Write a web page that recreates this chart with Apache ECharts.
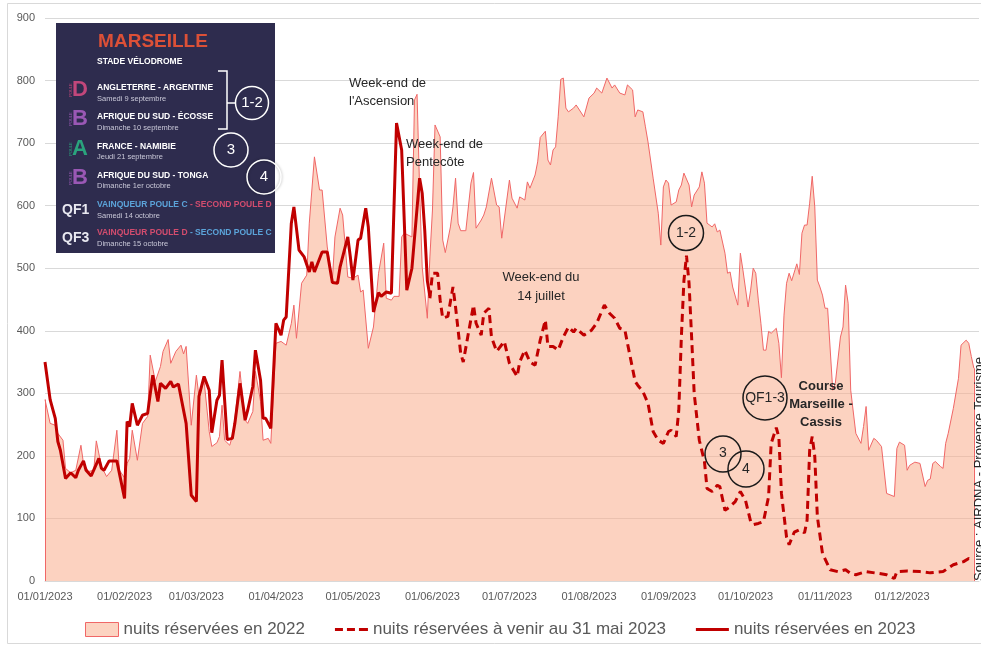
<!DOCTYPE html>
<html>
<head>
<meta charset="utf-8">
<script src="https://cdn.jsdelivr.net/npm/echarts@6/dist/echarts.min.js"></script>
<style>
  html, body { margin: 0; padding: 0; background: #fff; }
  #chart { width: 981px; height: 648px; }
</style>
</head>
<body>
<div id="chart"></div>
<script>
// day index (0 = 01/01/2023) and nights booked
const nights2022 = [
  [0,290],[2,252],[4,249],[5,236],[7,225],[8,180],[10,173],[12,177],[14,217],[15,188],[17,175],[19,177],
  [20,224],[22,183],[24,167],[26,177],[28,241],[29,177],[31,165],[32,188],[33,196],[34,241],[36,193],
  [38,252],[40,263],[41,361],[43,319],[45,343],[46,367],[48,386],[49,348],[51,367],[53,377],[54,363],
  [55,375],[57,249],[59,329],[60,295],[62,320],[64,239],[65,215],[67,221],[68,231],[69,281],[70,225],
  [72,217],[73,231],[74,260],[76,335],[78,257],[79,252],[81,271],[82,335],[84,287],[85,225],[87,228],
  [88,220],[90,380],[92,383],[94,377],[96,412],[97,441],[98,388],[100,476],[102,489],[103,572],[105,678],
  [107,625],[108,625],[110,534],[112,481],[113,550],[115,596],[116,585],[118,486],[120,484],[122,489],
  [123,462],[124,465],[126,372],[128,406],[130,492],[132,540],[133,452],[135,449],[136,455],[138,455],
  [139,550],[140,556],[143,550],[144,769],[145,778],[146,625],[147,502],[149,420],[150,518],[151,593],
  [152,729],[154,710],[155,545],[156,525],[158,566],[159,598],[160,644],[161,572],[162,560],[164,560],
  [166,636],[167,653],[168,564],[170,577],[171,585],[172,598],[174,644],[176,601],[177,598],[178,548],
  [181,641],[182,612],[184,596],[185,614],[187,609],[188,638],[189,628],[191,649],[192,670],[193,709],
  [195,719],[196,673],[197,665],[198,689],[199,694],[200,742],[201,802],[202,804],[203,756],[204,750],
  [206,756],[207,761],[210,742],[212,772],[214,780],[215,788],[217,780],[219,804],[221,788],[222,793],
  [224,780],[226,777],[227,793],[229,785],[230,742],[231,753],[233,750],[234,726],[235,702],[237,644],
  [239,588],[240,537],[241,630],[242,641],[243,636],[244,601],[246,606],[247,625],[248,633],[249,652],
  [251,633],[252,598],[253,617],[255,630],[256,654],[257,636],[258,572],[260,566],[261,571],[262,558],
  [263,561],[265,524],[266,492],[267,494],[268,470],[270,441],[271,524],[272,497],[274,438],[275,465],
  [276,500],[277,492],[278,449],[279,412],[280,369],[281,369],[282,399],[283,396],[285,404],[286,380],
  [287,325],[288,425],[289,476],[290,492],[291,480],[293,507],[294,490],[295,556],[296,569],[297,569],
  [298,604],[299,647],[300,598],[301,481],[302,470],[303,457],[304,436],[305,436],[307,305],[308,316],
  [310,390],[311,406],[312,473],[313,444],[314,305],[316,236],[318,220],[319,247],[320,279],[321,209],
  [323,228],[324,225],[326,215],[328,140],[331,135],[332,212],[333,222],[335,217],[336,177],[337,185],
  [339,190],[341,188],[343,151],[344,161],[345,163],[346,188],[347,191],[349,183],[350,180],[351,220],
  [352,236],[354,276],[356,324],[357,377],[359,385],[360,380],[361,359],[362,340]
];

const forward2023 = [
  [150,452],[151,492],[153,492],[154,449],[155,420],[157,423],[159,470],[160,438],[162,364],[163,350],
  [165,396],[167,441],[168,412],[170,393],[171,428],[173,436],[174,390],[176,367],[179,383],[181,348],
  [184,327],[185,350],[187,369],[189,350],[191,345],[193,385],[195,417],[196,375],[198,375],[200,369],
  [202,390],[204,406],[206,398],[207,404],[210,393],[213,401],[215,412],[218,441],[220,428],[222,420],
  [224,404],[226,401],[227,380],[230,319],[231,313],[233,303],[235,284],[237,239],[239,225],[241,220],
  [243,239],[244,241],[246,231],[247,273],[248,390],[249,480],[250,520],[251,476],[252,390],[253,300],
  [255,225],[257,191],[258,148],[260,143],[262,153],[263,151],[265,113],[267,119],[269,127],[271,143],
  [273,129],[275,95],[276,90],[278,92],[280,95],[282,135],[283,220],[285,245],[286,230],[287,140],
  [289,70],[290,58],[292,78],[294,82],[296,77],[297,97],[298,209],[299,231],[300,199],[301,103],
  [303,44],[306,18],[309,15],[312,18],[314,12],[316,10],[320,15],[325,12],[328,10],[331,4],[332,15],
  [336,16],[341,15],[345,13],[350,15],[354,26],[358,31],[360,36],[362,34]
];

const actual2023 = [
  [0,350],[2,290],[4,260],[5,223],[6,209],[8,164],[10,173],[12,165],[13,177],[15,192],[16,177],[18,168],
  [21,196],[22,180],[23,177],[25,192],[28,192],[31,132],[32,255],[33,247],[34,284],[36,249],[38,265],
  [40,268],[42,329],[44,287],[45,316],[47,308],[49,319],[50,310],[52,315],[55,252],[57,137],[59,127],
  [60,295],[62,327],[64,305],[65,237],[67,289],[68,297],[69,353],[70,289],[71,226],[73,228],[74,252],
  [76,316],[78,257],[79,273],[81,311],[82,369],[84,321],[85,260],[86,260],[88,244],[90,412],[92,393],
  [93,417],[94,422],[96,572],[97,598],[99,529],[101,518],[103,494],[104,510],[105,494],[108,526],
  [110,526],[112,477],[114,476],[115,502],[118,550],[119,518],[120,481],[122,545],[123,548],[125,596],
  [126,566],[128,430],[130,461],[131,455],[133,462],[135,460],[137,732],[139,689],[141,465],[143,500],
  [146,644],[147,620],[148,560],[149,480],[150,455]
];

const seriesNames = [
  'nuits réservées en 2022',
  'nuits réservées à venir au 31 mai 2023',
  'nuits réservées en 2023'
];

// categories: every day of 2023
const days = [];
for (let i = 0; i < 365; i++) {
  const dt = new Date(Date.UTC(2023, 0, 1 + i));
  const dd = String(dt.getUTCDate()).padStart(2, '0');
  const mm = String(dt.getUTCMonth() + 1).padStart(2, '0');
  days.push(dd + '/' + mm + '/2023');
}

const FONT = 'Liberation Sans';
const DARK = '#262626';
const RED = '#c00000';

function txt(x, y, text, size, color, opts) {
  return {
    type: 'text', z: 100, x: x, y: y,
    style: Object.assign({ text: text, fontFamily: FONT, fontSize: size, fill: color,
      align: 'left', verticalAlign: 'middle' }, (opts || {}))
  };
}
function ring(cx, cy, r, color, extra) {
  return { type: 'circle', z: 100, shape: { cx: cx, cy: cy, r: r },
    style: Object.assign({ fill: 'none', stroke: color, lineWidth: 1.5 }, extra || {}) };
}

// inset: Marseille match schedule
const pools = [
  { letter: 'D', color: '#c2477b', y: 90, title: 'ANGLETERRE - ARGENTINE', date: 'Samedi 9 septembre', ty: 88, dy: 99 },
  { letter: 'B', color: '#9a58b5', y: 119, title: 'AFRIQUE DU SUD - ÉCOSSE', date: 'Dimanche 10 septembre', ty: 117, dy: 128 },
  { letter: 'A', color: '#2aa37d', y: 149, title: 'FRANCE - NAMIBIE', date: 'Jeudi 21 septembre', ty: 147, dy: 157 },
  { letter: 'B', color: '#9a58b5', y: 178, title: 'AFRIQUE DU SUD - TONGA', date: 'Dimanche 1er octobre', ty: 176, dy: 186 }
];

const inset = [
  { type: 'rect', z: 99, shape: { x: 56, y: 23, width: 219, height: 230 }, style: { fill: '#2e2c4e' } },
  txt(153, 42, 'MARSEILLE', 19, '#dc5037', { align: 'center', fontWeight: 'bold' }),
  txt(97, 62, 'STADE VÉLODROME', 8.5, '#ffffff', { fontWeight: 'bold' })
];
pools.forEach(function (p) {
  inset.push(txt(80, p.y, p.letter, 22, p.color, { align: 'center', fontWeight: 'bold' }));
  inset.push(Object.assign(txt(71, p.y, 'POULE', 4, p.color, { align: 'center' }), { rotation: Math.PI / 2 }));
  inset.push(txt(97, p.ty, p.title, 8.5, '#ffffff', { fontWeight: 'bold' }));
  inset.push(txt(97, p.dy, p.date, 7.5, '#c9c8d8'));
});
const BLUE = '#5ba3d9', PINK = '#d24c6e';
const richQF = {
  a: { fill: BLUE, fontSize: 8.5, fontWeight: 'bold', fontFamily: FONT },
  b: { fill: PINK, fontSize: 8.5, fontWeight: 'bold', fontFamily: FONT }
};
inset.push(txt(62, 210, 'QF1', 14, '#e8e8f0', { fontWeight: 'bold' }));
inset.push(txt(97, 205, '{a|VAINQUEUR POULE C} {b|- SECOND POULE D}', 8.5, BLUE, { fontWeight: 'bold', rich: richQF }));
inset.push(txt(97, 216, 'Samedi 14 octobre', 7.5, '#c9c8d8'));
inset.push(txt(62, 238, 'QF3', 14, '#e8e8f0', { fontWeight: 'bold' }));
inset.push(txt(97, 233, '{b|VAINQUEUR POULE D} {a|- SECOND POULE C}', 8.5, PINK, { fontWeight: 'bold', rich: richQF }));
inset.push(txt(97, 244, 'Dimanche 15 octobre', 7.5, '#c9c8d8'));
// bracket + circles on the inset
inset.push({ type: 'polyline', z: 100, shape: { points: [[218, 71], [227, 71], [227, 129], [218, 129]] },
  style: { stroke: '#ffffff', lineWidth: 1.5, fill: 'none' } });
inset.push({ type: 'line', z: 100, shape: { x1: 227, y1: 103, x2: 236, y2: 103 },
  style: { stroke: '#ffffff', lineWidth: 1.5 } });
inset.push(ring(252, 103, 16.5, '#ffffff'));
inset.push(txt(252, 103, '1-2', 15, '#ffffff', { align: 'center' }));
inset.push(ring(231, 150, 17, '#ffffff'));
inset.push(txt(231, 150, '3', 15, '#ffffff', { align: 'center' }));
inset.push(ring(264, 177, 17, '#ffffff', { shadowBlur: 3, shadowColor: 'rgba(0,0,0,0.35)' }));
inset.push(txt(264, 177, '4', 15, '#ffffff', { align: 'center' }));

// annotations on the plot
const notes = [
  txt(349, 83, 'Week-end de', 13, DARK),
  txt(349, 101, "l'Ascension", 13, DARK),
  txt(406, 144, 'Week-end de', 13, DARK),
  txt(406, 162, 'Pentecôte', 13, DARK),
  txt(541, 277, 'Week-end du', 13, DARK, { align: 'center' }),
  txt(541, 296, '14 juillet', 13, DARK, { align: 'center' }),
  txt(821, 386, 'Course', 13, DARK, { align: 'center', fontWeight: 'bold' }),
  txt(821, 404, 'Marseille -', 13, DARK, { align: 'center', fontWeight: 'bold' }),
  txt(821, 422, 'Cassis', 13, DARK, { align: 'center', fontWeight: 'bold' }),
  ring(686, 233, 17.5, '#1a1a1a'),
  txt(686, 233, '1-2', 14, DARK, { align: 'center' }),
  ring(765, 398, 22, '#1a1a1a'),
  txt(765, 398, 'QF1-3', 14, DARK, { align: 'center' }),
  ring(723, 454, 18, '#1a1a1a'),
  txt(723, 453, '3', 14, DARK, { align: 'center' }),
  ring(746, 469, 18, '#1a1a1a'),
  txt(746, 469, '4', 14, DARK, { align: 'center' }),
  Object.assign(txt(979, 581, 'Source : AIRDNA - Provence Tourisme', 13, DARK), { rotation: Math.PI / 2 }),
  { type: 'rect', z: 100, shape: { x: 7.5, y: 3.5, width: 1000, height: 640 },
    style: { fill: 'none', stroke: '#d9d9d9', lineWidth: 1 } }
];

const first2022 = nights2022[0];
const last2022 = nights2022[nights2022.length - 1];

const chart = echarts.init(document.getElementById('chart'));
chart.setOption({
  backgroundColor: '#ffffff',
  animation: false,
  textStyle: { fontFamily: FONT },
  grid: { left: 45, right: 2, top: 18, bottom: 67 },
  legend: {
    left: 85, top: 621, padding: 0, itemWidth: 33, itemHeight: 14, itemGap: 30,
    textStyle: { fontSize: 17, color: '#595959', fontFamily: FONT },
    data: [
      { name: seriesNames[0], icon: 'rect',
        itemStyle: { color: '#fcd3c1', borderColor: '#f06767', borderWidth: 1 } },
      { name: seriesNames[1], icon: 'path://M0,0h8v3h-8Z M12,0h8v3h-8Z M24,0h9v3h-9Z',
        itemStyle: { color: RED, borderWidth: 0 } },
      { name: seriesNames[2], icon: 'path://M0,0h33v3h-33Z',
        itemStyle: { color: RED, borderWidth: 0 } }
    ]
  },
  xAxis: {
    type: 'category',
    data: days,
    boundaryGap: false,
    axisLine: { lineStyle: { color: '#d9d9d9' } },
    axisTick: { show: false },
    axisLabel: {
      color: '#595959', fontSize: 11, margin: 10,
      interval: function (i, v) { return v.slice(0, 2) === '01'; }
    },
    splitLine: { show: false }
  },
  yAxis: {
    type: 'value',
    min: 0, max: 900, interval: 100,
    axisLine: { show: false },
    axisTick: { show: false },
    axisLabel: { color: '#595959', fontSize: 11, margin: 10 },
    splitLine: { lineStyle: { color: '#d9d9d9', width: 1 } }
  },
  series: [
    {
      name: seriesNames[0], type: 'line', data: nights2022, symbol: 'none', z: 1,
      lineStyle: { color: '#f06767', width: 1 },
      itemStyle: { color: '#f06767' },
      areaStyle: { color: 'rgb(250,173,140)', opacity: 0.55 },
      // the area outline closes on both ends
      markLine: {
        silent: true, symbol: 'none', label: { show: false },
        lineStyle: { color: '#f06767', width: 1, type: 'solid' },
        data: [
          [{ coord: [first2022[0], 0] }, { coord: [first2022[0], first2022[1]] }],
          [{ coord: [last2022[0], 0] }, { coord: [last2022[0], last2022[1]] }]
        ]
      }
    },
    {
      name: seriesNames[1], type: 'line', data: forward2023, symbol: 'none', z: 3,
      lineStyle: { color: RED, width: 3, type: [8, 5] },
      itemStyle: { color: RED }
    },
    {
      name: seriesNames[2], type: 'line', data: actual2023, symbol: 'none', z: 4,
      lineStyle: { color: RED, width: 3 },
      itemStyle: { color: RED }
    }
  ],
  graphic: inset.concat(notes)
});
</script>
</body>
</html>
